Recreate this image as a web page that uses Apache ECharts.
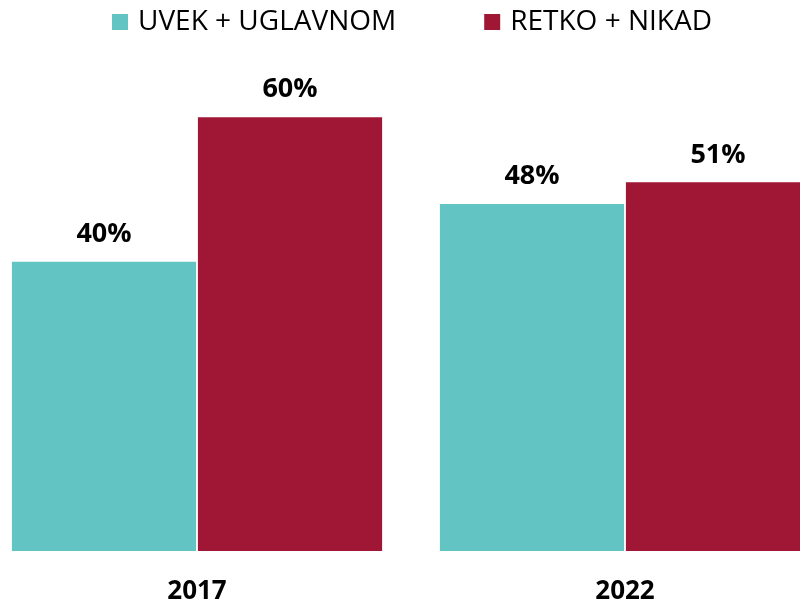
<!DOCTYPE html>
<html>
<head>
<meta charset="utf-8">
<script src="https://cdn.jsdelivr.net/npm/echarts@6/dist/echarts.min.js"></script>
<style>
  html, body { margin: 0; padding: 0; background: #fff; }
  #chart { width: 800px; height: 600px; }
</style>
</head>
<body>
<div id="chart"></div>
<script>
const years = ['2017', '2022'];
const uvekUglavnom = [40, 48];
const retkoNikad = [60, 51];
const seriesNames = ['UVEK + UGLAVNOM', 'RETKO + NIKAD'];

const fontFamily = 'Open Sans, Liberation Sans, sans-serif';

let myChart = echarts.init(document.getElementById('chart'));
// 绘制图表
myChart.setOption({
  animation: false,
  legend: {
    top: 3,
    left: 107,
    itemWidth: 16,
    itemHeight: 16,
    itemGap: 88,
    icon: 'rect',
    textStyle: { fontSize: 28, color: '#000', fontFamily: fontFamily, padding: [0, 0, 0, 5] }
  },
  grid: {
    left: -17,
    width: 856,
    top: 45,
    bottom: 49,
    outerBoundsMode: 'none',
    containLabel: false
  },
  xAxis: {
    type: 'category',
    data: years,
    axisLine: { show: false },
    axisTick: { show: false },
    axisLabel: {
      margin: 28,
      fontSize: 26,
      fontWeight: 'bold',
      color: '#000',
      fontFamily: fontFamily
    }
  },
  yAxis: {
    type: 'value',
    min: 0,
    max: 70,
    show: false,
    splitLine: { show: false }
  },
  series: [
    {
      name: seriesNames[0],
      type: 'bar',
      data: uvekUglavnom,
      barGap: '1%',
      barCategoryGap: '13.5%',
      itemStyle: { color: '#63C5C3' },
      label: {
        show: true,
        position: 'top',
        distance: 14,
        formatter: '{c}%',
        fontSize: 27,
        fontWeight: 'bold',
        color: '#000',
        fontFamily: fontFamily
      }
    },
    {
      name: seriesNames[1],
      type: 'bar',
      data: retkoNikad,
      barGap: '1%',
      barCategoryGap: '13.5%',
      itemStyle: { color: '#A01735' },
      label: {
        show: true,
        position: 'top',
        distance: 14,
        formatter: '{c}%',
        fontSize: 27,
        fontWeight: 'bold',
        color: '#000',
        fontFamily: fontFamily
      }
    }
  ]
});
</script>
</body>
</html>
